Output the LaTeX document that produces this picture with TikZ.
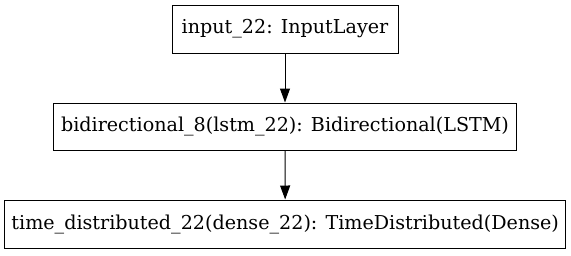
\documentclass[tikz,border=0pt]{standalone}
\usepackage{fontspec}
\setmainfont{DejaVu Serif}
\usetikzlibrary{arrows.meta}
\begin{document}
\begin{tikzpicture}[x=1bp,y=-1bp,
  layer/.style={draw=black, line width=1bp, rectangle, inner sep=0pt,
    minimum height=48bp, font=\fontsize{19.2}{21}\selectfont, text=black},
  flow/.style={draw=black, line width=1bp, -{Triangle[length=14bp,width=10bp]}}]
  \useasboundingbox (0,0) rectangle (571,255);
  \node[layer, minimum width=226bp] (inp) at (285,29) {input\_22: InputLayer};
  \node[layer, minimum width=462bp, minimum height=47bp] (bid) at (285,126.5) {bidirectional\_8(lstm\_22): Bidirectional(LSTM)};
  \node[layer, minimum width=561bp] (td) at (285.2,224) {time\_distributed\_22(dense\_22): TimeDistributed(Dense)};
  \draw[flow] (inp) -- (bid);
  \draw[flow] (bid) -- (td);
\end{tikzpicture}
\end{document}
